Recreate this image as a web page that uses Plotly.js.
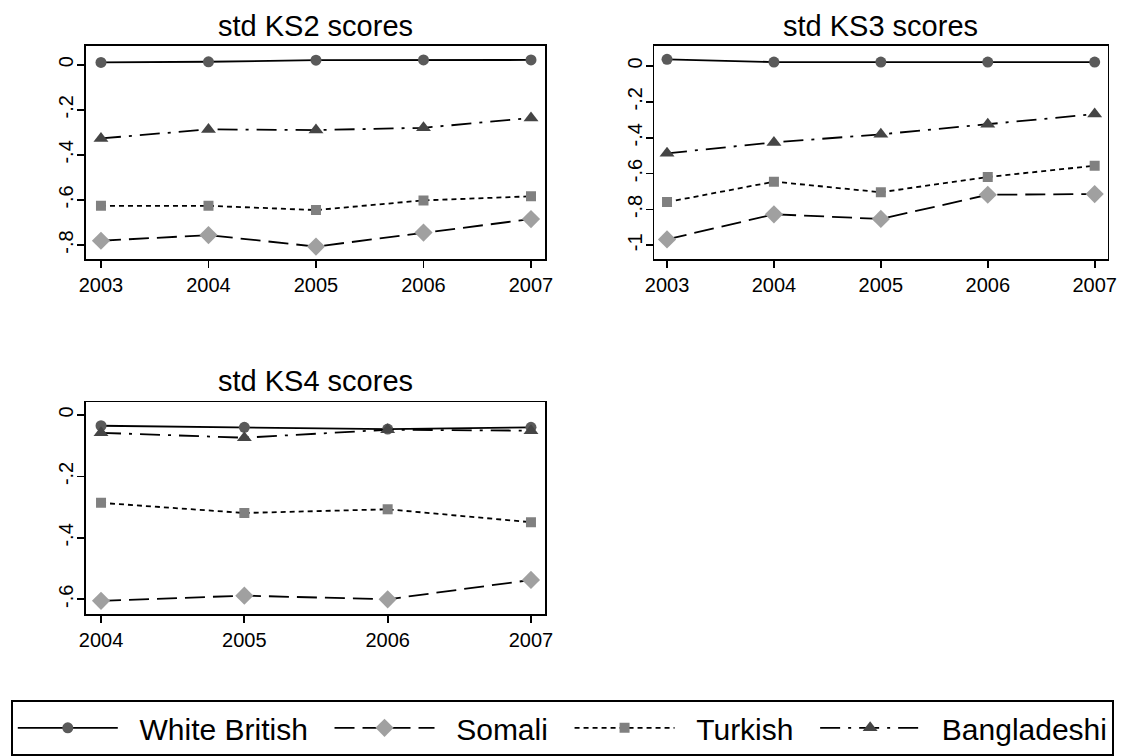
<!DOCTYPE html>
<html>
<head>
<meta charset="utf-8">
<script src="https://cdn.plot.ly/plotly-3.0.1.min.js"></script>
<style>html,body{margin:0;padding:0;background:#fff;}#chart{width:1122px;height:756px;}</style>
</head>
<body>
<div id="chart"></div>
<script>
// ---- data ----
const groups = ["White British", "Somali", "Turkish", "Bangladeshi"];
const yearsKS2 = [2003, 2004, 2005, 2006, 2007];
const yearsKS3 = [2003, 2004, 2005, 2006, 2007];
const yearsKS4 = [2004, 2005, 2006, 2007];
const panelTitles = ["std KS2 scores", "std KS3 scores", "std KS4 scores"];

const ks2WhiteBritish = [0.010, 0.013, 0.020, 0.021, 0.021];
const ks2Somali       = [-0.781, -0.756, -0.807, -0.745, -0.685];
const ks2Turkish      = [-0.626, -0.626, -0.645, -0.602, -0.584];
const ks2Bangladeshi  = [-0.327, -0.287, -0.290, -0.280, -0.236];

const ks3WhiteBritish = [0.037, 0.022, 0.022, 0.022, 0.022];
const ks3Somali       = [-0.967, -0.827, -0.853, -0.718, -0.714];
const ks3Turkish      = [-0.759, -0.645, -0.704, -0.619, -0.556];
const ks3Bangladeshi  = [-0.487, -0.426, -0.381, -0.325, -0.268];

const ks4WhiteBritish = [-0.035, -0.040, -0.046, -0.040];
const ks4Somali       = [-0.605, -0.588, -0.600, -0.537];
const ks4Turkish      = [-0.286, -0.319, -0.307, -0.349];
const ks4Bangladeshi  = [-0.058, -0.074, -0.048, -0.051];

const ks2Ticks = [0, -0.2, -0.4, -0.6, -0.8];
const ks2TickText = ["0", "-.2", "-.4", "-.6", "-.8"];
const ks3Ticks = [0, -0.2, -0.4, -0.6, -0.8, -1];
const ks3TickText = ["0", "-.2", "-.4", "-.6", "-.8", "-1"];
const ks4Ticks = [0, -0.2, -0.4, -0.6];
const ks4TickText = ["0", "-.2", "-.4", "-.6"];

// ---- styles ----
const FONT = "Liberation Sans, Arial, Helvetica, sans-serif";
const NB = "\u00a0";
const styles = {
  "White British": {dash: "solid", symbol: "circle", size: 11, color: "#5a5a5a", pad: 2},
  "Somali":        {dash: "20px,8px", symbol: "diamond", size: 14, color: "#a0a0a0", pad: 2},
  "Turkish":       {dash: "5px,4px", symbol: "square", size: 10, color: "#808080", pad: 2},
  "Bangladeshi":   {dash: "20px,8px,3px,8px", symbol: "triangle-up", size: 13, color: "#454545", pad: 0}
};

const panels = [
  {x: yearsKS2, ys: [ks2WhiteBritish, ks2Somali, ks2Turkish, ks2Bangladeshi], xa: "x", ya: "y"},
  {x: yearsKS3, ys: [ks3WhiteBritish, ks3Somali, ks3Turkish, ks3Bangladeshi], xa: "x2", ya: "y2"},
  {x: yearsKS4, ys: [ks4WhiteBritish, ks4Somali, ks4Turkish, ks4Bangladeshi], xa: "x3", ya: "y3"}
];

const traces = [];
panels.forEach((p, pi) => {
  groups.forEach((g, gi) => {
    const s = styles[g];
    traces.push({
      type: "scatter", mode: "lines+markers",
      x: p.x, y: p.ys[gi], xaxis: p.xa, yaxis: p.ya,
      name: NB + NB + g + NB.repeat(s.pad),
      legendgroup: g, showlegend: pi === 0,
      line: {color: "#000", width: 1.8, dash: s.dash},
      marker: {symbol: s.symbol, size: s.size, color: s.color, line: {width: 0}},
      hoverinfo: "x+y+name"
    });
  });
});

const W = 1122, H = 756;
function xd(l, r) { return [l / W, r / W]; }
function yd(t, b) { return [1 - b / H, 1 - t / H]; }

const axBase = {
  showline: true, mirror: true, linecolor: "#000", linewidth: 1.8,
  ticks: "outside", ticklen: 7, tickwidth: 1.8, tickcolor: "#000",
  showgrid: false, zeroline: false, fixedrange: true, automargin: false,
  tickfont: {family: FONT, size: 20, color: "#000"}
};

function xaxis(domain, range, years, anchor) {
  return Object.assign({}, axBase, {domain: domain, range: range, anchor: anchor,
    tickmode: "array", tickvals: years, ticktext: years.map(String)});
}
function yaxis(domain, range, vals, text, anchor) {
  return Object.assign({}, axBase, {domain: domain, range: range, anchor: anchor,
    tickmode: "array", tickvals: vals, ticktext: text, tickangle: -90, ticklabelstandoff: -4});
}

const titleFont = {family: FONT, size: 29, color: "#000"};
const layout = {
  width: W, height: H,
  margin: {l: 0, r: 0, t: 0, b: 0},
  paper_bgcolor: "#fff", plot_bgcolor: "#fff",
  font: {family: FONT, color: "#000"},
  xaxis:  xaxis(xd(85.7, 545.3),  [2002.858, 2007.133], yearsKS2, "y"),
  yaxis:  yaxis(yd(45.7, 259.3),  [-0.8634, 0.0843], ks2Ticks, ks2TickText, "x"),
  xaxis2: xaxis(xd(654.3, 1107.5), [2002.881, 2007.12], yearsKS3, "y2"),
  yaxis2: yaxis(yd(45.7, 259.3),  [-1.078, 0.1132], ks3Ticks, ks3TickText, "x2"),
  xaxis3: xaxis(xd(85.7, 545.3),  [2003.893, 2007.10], yearsKS4, "y3"),
  yaxis3: yaxis(yd(402.3, 614),   [-0.6478, 0.0413], ks4Ticks, ks4TickText, "x3"),
  annotations: [
    {text: panelTitles[0], xref: "paper", yref: "paper", x: (85.7 + 545.3) / 2 / W, y: 1 - 26 / H, xanchor: "center", yanchor: "middle", showarrow: false, font: titleFont},
    {text: panelTitles[1], xref: "paper", yref: "paper", x: (654.3 + 1107.5) / 2 / W, y: 1 - 26 / H, xanchor: "center", yanchor: "middle", showarrow: false, font: titleFont},
    {text: panelTitles[2], xref: "paper", yref: "paper", x: (85.7 + 545.3) / 2 / W, y: 1 - 381 / H, xanchor: "center", yanchor: "middle", showarrow: false, font: titleFont}
  ],
  showlegend: true,
  legend: {
    orientation: "h", x: 11 / W, xanchor: "left", y: 0, yanchor: "bottom",
    bgcolor: "#fff", bordercolor: "#000", borderwidth: 1.8,
    font: {family: FONT, size: 30, color: "#000"},
    itemwidth: 100, itemclick: false, itemdoubleclick: false,
    traceorder: "normal"
  }
};

Plotly.newPlot("chart", traces, layout, {displayModeBar: false, staticPlot: true});
</script>
</body>
</html>
